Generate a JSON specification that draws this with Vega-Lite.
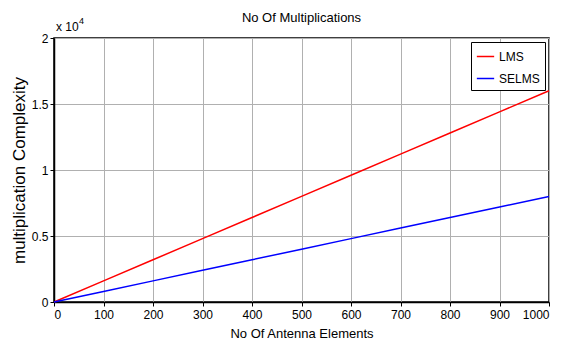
{
  "$schema": "https://vega.github.io/schema/vega-lite/v6.json",
  "width": 495,
  "height": 264,
  "autosize": {"type": "none"},
  "padding": {"left": 54, "top": 38, "right": 21, "bottom": 40},
  "background": "white",
  "config": {
    "font": "Liberation Sans",
    "view": {"stroke": "black", "strokeWidth": 1.5},
    "axis": {
      "labelFont": "Liberation Sans",
      "titleFont": "Liberation Sans",
      "labelFontSize": 12,
      "titleFontSize": 13,
      "labelColor": "black",
      "titleColor": "black",
      "titleFontWeight": "normal",
      "gridColor": "#b0b0b0",
      "gridWidth": 1,
      "domainColor": "black",
      "domainWidth": 1.5,
      "tickColor": "black",
      "tickSize": 4
    }
  },
  "title": {
    "text": "No Of Multiplications",
    "font": "Liberation Sans",
    "fontSize": 13,
    "fontWeight": "normal",
    "color": "black",
    "offset": -8
  },
  "datasets": {
    "series": [
      {"n": 0, "c": 0, "s": "LMS"},
      {"n": 100, "c": 1600, "s": "LMS"},
      {"n": 200, "c": 3200, "s": "LMS"},
      {"n": 300, "c": 4800, "s": "LMS"},
      {"n": 400, "c": 6400, "s": "LMS"},
      {"n": 500, "c": 8000, "s": "LMS"},
      {"n": 600, "c": 9600, "s": "LMS"},
      {"n": 700, "c": 11200, "s": "LMS"},
      {"n": 800, "c": 12800, "s": "LMS"},
      {"n": 900, "c": 14400, "s": "LMS"},
      {"n": 1000, "c": 16000, "s": "LMS"},
      {"n": 0, "c": 0, "s": "SELMS"},
      {"n": 100, "c": 800, "s": "SELMS"},
      {"n": 200, "c": 1600, "s": "SELMS"},
      {"n": 300, "c": 2400, "s": "SELMS"},
      {"n": 400, "c": 3200, "s": "SELMS"},
      {"n": 500, "c": 4000, "s": "SELMS"},
      {"n": 600, "c": 4800, "s": "SELMS"},
      {"n": 700, "c": 5600, "s": "SELMS"},
      {"n": 800, "c": 6400, "s": "SELMS"},
      {"n": 900, "c": 7200, "s": "SELMS"},
      {"n": 1000, "c": 8000, "s": "SELMS"}
    ],
    "exponent": [
      {"n": 0, "c": 20000, "base": "x 10", "exp": "4"}
    ]
  },
  "layer": [
    {
      "data": {"name": "series"},
      "mark": {"type": "line", "strokeWidth": 1.5},
      "encoding": {
        "x": {
          "field": "n", "type": "quantitative",
          "scale": {"domain": [0, 1000], "nice": false},
          "axis": {"values": [0,100,200,300,400,500,600,700,800,900,1000], "format": "d", "title": "No Of Antenna Elements", "titlePadding": 7, "labelPadding": 3}
        },
        "y": {
          "field": "c", "type": "quantitative",
          "scale": {"domain": [0, 20000], "nice": false},
          "axis": {"values": [0, 5000, 10000, 15000, 20000], "labelExpr": "datum.value / 10000", "title": "multiplication  Complexity", "titleFontSize": 17, "titlePadding": 3, "labelPadding": 2}
        },
        "color": {
          "field": "s", "type": "nominal",
          "scale": {"domain": ["LMS", "SELMS"], "range": ["#ff0000", "#0000ff"]},
          "legend": {
            "title": null,
            "orient": "top-right",
            "offset": 4,
            "symbolType": "stroke",
            "symbolSize": 300,
            "symbolStrokeWidth": 1.5,
            "labelFontSize": 12,
            "labelFont": "Liberation Sans",
            "labelColor": "black",
            "strokeColor": "black",
            "fillColor": "white",
            "padding": 5,
            "rowPadding": 6
          }
        }
      }
    },
    {
      "data": {"name": "exponent"},
      "mark": {"type": "text", "align": "left", "baseline": "bottom", "dx": 2, "dy": -4, "fontSize": 12, "fontWeight": "normal", "font": "Liberation Sans", "color": "black"},
      "encoding": {"x": {"field": "n", "type": "quantitative"}, "y": {"field": "c", "type": "quantitative"}, "text": {"field": "base"}}
    },
    {
      "data": {"name": "exponent"},
      "mark": {"type": "text", "align": "left", "baseline": "bottom", "dx": 25, "dy": -12, "fontSize": 9, "fontWeight": "normal", "font": "Liberation Sans", "color": "black"},
      "encoding": {"x": {"field": "n", "type": "quantitative"}, "y": {"field": "c", "type": "quantitative"}, "text": {"field": "exp"}}
    }
  ]
}
